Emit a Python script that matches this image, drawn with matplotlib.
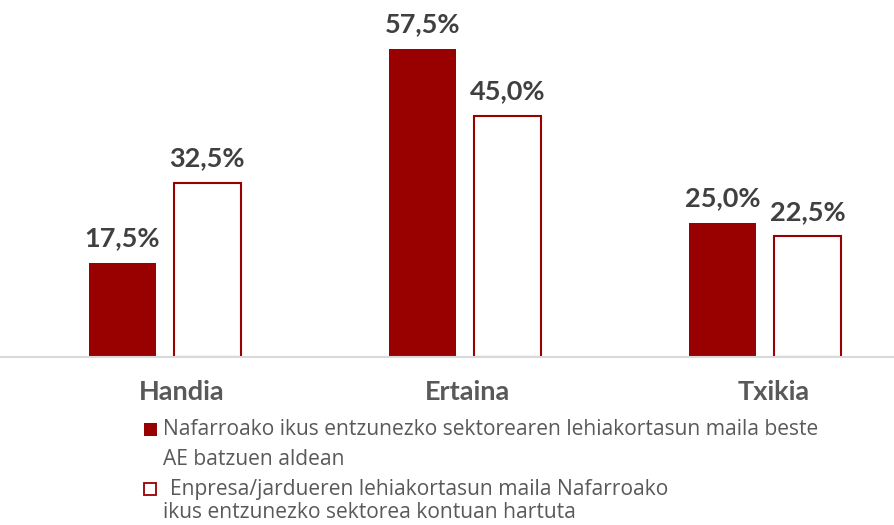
import matplotlib.pyplot as plt
from matplotlib.patches import Rectangle

plt.rcParams['font.family'] = ['Lato', 'DejaVu Sans']

categories = ['Handia', 'Ertaina', 'Txikia']
sector_vals = [17.5, 57.5, 25.0]
company_vals = [32.5, 45.0, 22.5]
legend_lines = [
    'Nafarroako ikus entzunezko sektorearen lehiakortasun maila beste',
    'AE batzuen aldean',
    'Enpresa/jardueren lehiakortasun maila Nafarroako',
    'ikus entzunezko sektorea kontuan hartuta',
]

red = '#990000'
W, H = 894, 525

fig = plt.figure(figsize=(W / 100, H / 100), dpi=100)
ax = fig.add_axes([0, 1 - 357 / H, 1, 357 / H])

x = list(range(len(categories)))
bw = 67 / 300
off = 42.5 / 300
b1 = ax.bar([i - off for i in x], sector_vals, bw, color=red, zorder=2)
b2 = ax.bar([i + off for i in x], company_vals, bw, facecolor='white',
            edgecolor=red, linewidth=1.5, zorder=2)

for bars, vals in [(b1, sector_vals), (b2, company_vals)]:
    for r, v in zip(bars, vals):
        ax.annotate(f'{v:.1f}%'.replace('.', ','),
                    (r.get_x() + r.get_width() / 2, v),
                    xytext=(0, 12), textcoords='offset points',
                    ha='center', va='baseline', fontsize=19.5,
                    fontweight='bold', color='#404040')

# small nudges so the category names sit like in the original
nudge = [12, 2, 6]
for i, c in enumerate(categories):
    ax.annotate(c, (i, 0), xytext=(nudge[i], -31), textcoords='offset points',
                ha='center', va='baseline', fontsize=19.5, fontweight='bold',
                color='#595959', annotation_clip=False)

ax.set_xlim(-164.5 / 300, 2 + 129 / 300)
ax.set_ylim(0, 66.64)
for s in ['top', 'right', 'left']:
    ax.spines[s].set_visible(False)
ax.spines['bottom'].set_color('#d9d9d9')
ax.spines['bottom'].set_linewidth(1.5)
ax.set_xticks([])
ax.set_yticks([])

# legend
fig.patches.append(Rectangle((144 / W, 1 - 436 / H), 13 / W, 13 / H,
                             transform=fig.transFigure, facecolor=red,
                             edgecolor='none'))
fig.patches.append(Rectangle((144 / W, 1 - 495 / H), 12 / W, 12 / H,
                             transform=fig.transFigure, facecolor='white',
                             edgecolor=red, linewidth=1.3))
pos = [(163, 435), (163, 465), (170, 495), (163, 518)]
for (px, py), t in zip(pos, legend_lines):
    fig.text(px / W, 1 - py / H, t, fontsize=15.1, color='#595959',
             family=['Open Sans', 'DejaVu Sans'], va='baseline', ha='left')

fig.savefig('out.png', dpi=100)
